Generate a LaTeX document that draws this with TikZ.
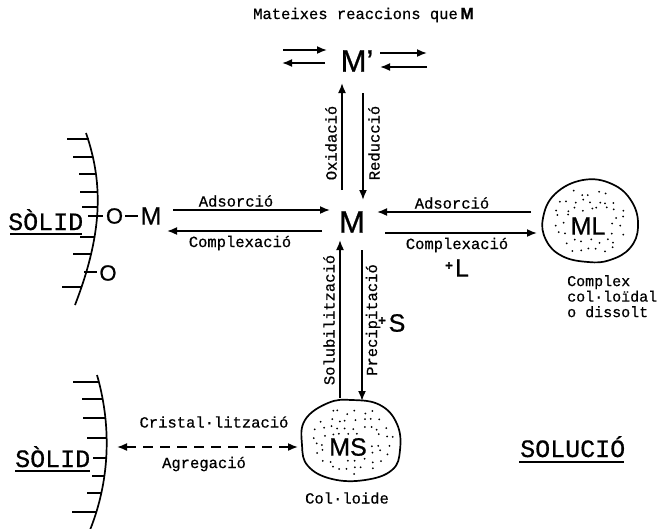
\documentclass[tikz,border=0pt]{standalone}
\usepackage{fontspec}
\setmainfont{Liberation Sans}
\newfontfamily\monof[FakeBold=0.6]{Liberation Mono}
\newfontfamily\sansf[FakeBold=0.8]{Liberation Sans}
\usetikzlibrary{arrows.meta}
\begin{document}
\begin{tikzpicture}[x=1pt,y=-1pt,
  lbl/.style={font=\monof\fontsize{15.5}{18}\selectfont, inner sep=0pt},
  small/.style={font=\monof\fontsize{15}{15.5}\selectfont, inner sep=0pt},
  big/.style={font=\sansf\fontsize{31}{33}\selectfont, inner sep=0pt},
  mid/.style={font=\sansf\fontsize{25}{28}\selectfont, inner sep=0pt},
  oo/.style={font=\sansf\fontsize{22}{24}\selectfont, inner sep=0pt},
  plus/.style={font=\sansf\bfseries\fontsize{13}{14}\selectfont, inner sep=0pt},
  solidtxt/.style={font=\monof\fontsize{25}{28}\selectfont, inner sep=0pt},
  arr/.style={line width=1.7pt, -{Latex[length=10pt,width=8pt]}},
  darr/.style={line width=1.6pt, dash pattern=on 10pt off 7pt, {Latex[length=10pt,width=8pt]}-{Latex[length=10pt,width=8pt]}},
  tickl/.style={line width=1.3pt},
  wall/.style={line width=1.7pt},
  blob/.style={line width=1.7pt},
  uline/.style={line width=1.2pt},
  bond/.style={line width=2.2pt},
]
\fill[white] (0,0) rectangle (660,528);
\useasboundingbox (0,0) rectangle (660,528);

% title
\node[lbl, anchor=base west] (title) at (253,19) {Mateixes reaccions que\,{\sansf\bfseries\fontsize{16}{18}\selectfont M}};

% central species
\node[big] (Mp) at (357,61) {M’};
\node[big] (M) at (352,222) {M};

% equilibria arrows around M'
\coordinate (p1a) at (283,50); \coordinate (p1b) at (327,50);
\coordinate (p2a) at (325,63); \coordinate (p2b) at (282,63);
\coordinate (p3a) at (380,53); \coordinate (p3b) at (427,53);
\coordinate (p4a) at (427,67); \coordinate (p4b) at (380,67);
\draw[arr] (p1a) -- (p1b);
\draw[arr] (p2a) -- (p2b);
\draw[arr] (p3a) -- (p3b);
\draw[arr] (p4a) -- (p4b);

% M <-> M'
\coordinate (ox1) at (342,190); \coordinate (ox2) at (342,83);
\coordinate (re1) at (363,93); \coordinate (re2) at (363,200);
\draw[arr] (ox1) -- (ox2);
\draw[arr] (re1) -- (re2);
\node[lbl, rotate=90] (oxl) at (331,143) {Oxidació};
\node[lbl, rotate=90] (rel) at (374,143) {Reducció};

% M <-> solid (left)
\coordinate (la1) at (173,210); \coordinate (la2) at (330,210);
\coordinate (lc1) at (322,231); \coordinate (lc2) at (167,231);
\draw[arr] (la1) -- (la2);
\draw[arr] (lc1) -- (lc2);
\node[lbl] (lads) at (236,201) {Adsorció};
\node[lbl] (lcom) at (240,243) {Complexació};

% M <-> ML (right)
\coordinate (ra1) at (531,212); \coordinate (ra2) at (377,212);
\coordinate (rc1) at (385,233); \coordinate (rc2) at (537,233);
\draw[arr] (ra1) -- (ra2);
\draw[arr] (rc1) -- (rc2);
\node[lbl] (rads) at (452,203) {Adsorció};
\node[lbl] (rcom) at (457,245) {Complexació};
\node[plus] (plusL) at (449,266) {+};
\node[mid] (Lt) at (462,268) {L};

% M <-> MS
\coordinate (so1) at (340,398); \coordinate (so2) at (340,240);
\coordinate (pr1) at (362,250); \coordinate (pr2) at (362,401);
\draw[arr] (so1) -- (so2);
\draw[arr] (pr1) -- (pr2);
\node[lbl, rotate=90] (sol) at (329,320) {Solubilització};
\node[lbl, rotate=90] (prl) at (373,320) {Precipitació};
\node[plus] (plusS) at (382,321) {+};
\node[mid] (St) at (397,323) {S};

% ML blob
\draw[blob] plot[smooth cycle, tension=0.7] coordinates {(555,194) (583,180) (612,184) (632,202) (638,227) (630,248) (610,260) (588,262) (562,256) (546,240) (543,218)};
\pgfmathsetseed{12}
\foreach \gx in {-40,-32,...,40}{
  \foreach \gy in {-36,-28,...,36}{
    \pgfmathsetmacro\dx{\gx+5*rnd-2.5}
    \pgfmathsetmacro\dy{\gy+5*rnd-2.5}
    \pgfmathsetmacro\ea{(\dx/43)^2+(\dy/37)^2}
    \pgfmathtruncatemacro\ok{(\ea<0.85) && !((abs(\dx+2)<20) && (abs(\dy-5)<11)) ? 1 : 0}
    \ifnum\ok=1 \fill ({590+\dx},{221+\dy}) circle (1pt); \fi
  }
}
\node[mid] (ML) at (588,226) {ML};
\node[small, anchor=north west, align=left] (mllab) at (567,275) {Complex\\col·loïdal\\o dissolt};

% MS blob
\draw[blob] plot[smooth cycle, tension=0.7] coordinates {(305,420) (328,403) (352,400) (380,405) (397,424) (400,450) (392,470) (365,480) (332,479) (308,466) (302,445)};
\pgfmathsetseed{31}
\foreach \gx in {-44,-36,...,44}{
  \foreach \gy in {-36,-28,...,36}{
    \pgfmathsetmacro\dx{\gx+5*rnd-2.5}
    \pgfmathsetmacro\dy{\gy+5*rnd-2.5}
    \pgfmathsetmacro\ea{(\dx/46)^2+(\dy/37)^2}
    \pgfmathtruncatemacro\ok{(\ea<0.85) && !((abs(\dx+3)<22) && (abs(\dy-7)<11)) ? 1 : 0}
    \ifnum\ok=1 \fill ({351+\dx},{440+\dy}) circle (1pt); \fi
  }
}
\node[mid] (MS) at (348,447) {MS};
\node[lbl] (mslab) at (347,498) {Col·loide};

% solid <-> MS dashed
\coordinate (d1) at (117,447); \coordinate (d2) at (298,447);
\draw[darr] (d1) -- (d2);
\node[lbl] (cris) at (214,422) {Cristal·lització};
\node[lbl] (agre) at (204,464) {Agregació};

% upper solid wall
\draw[wall] (86,133) .. controls (104,185) and (102,235) .. (75,305);
\foreach \y/\xl/\xr in {139/67/88.5, 157/73/92.5, 174/79/96, 192/80/97.5, 207/82/97.6, 237/80/94.3, 254/73/91, 287/62/81.5}{
  \draw[tickl] (\xl,\y) -- (\xr,\y);
}
\node[solidtxt, anchor=base west] (solid1) at (8,230) {SÒLID};
\draw[uline] (10,234) -- (82,234);
\draw[bond] (88,216) -- (103,216);
\node[oo] (O1) at (114.5,216) {O};
\draw[bond] (125,216) -- (138,216);
\node[mid] (M1) at (151,216) {M};
\draw[bond] (84,272) -- (97,272);
\node[oo] (O2) at (108,273) {O};

% lower solid wall
\draw[wall] (97,375) .. controls (110,420) and (112,475) .. (90,530);
\foreach \y/\xl/\xr in {382/73/99, 399/82/102.6, 418/83/105.4, 438/87/106.6, 458/93/106.1, 476/92/104.3, 493/87/101.3, 512/72/96.3}{
  \draw[tickl] (\xl,\y) -- (\xr,\y);
}
\node[solidtxt, anchor=base west] (solid2) at (15,467) {SÒLID};
\draw[uline] (15,471) -- (90,471);

% solution label
\node[solidtxt, anchor=base west] (soluc) at (520,457) {SOLUCIÓ};
\draw[uline] (519,462) -- (624,462);
\end{tikzpicture}
\end{document}
